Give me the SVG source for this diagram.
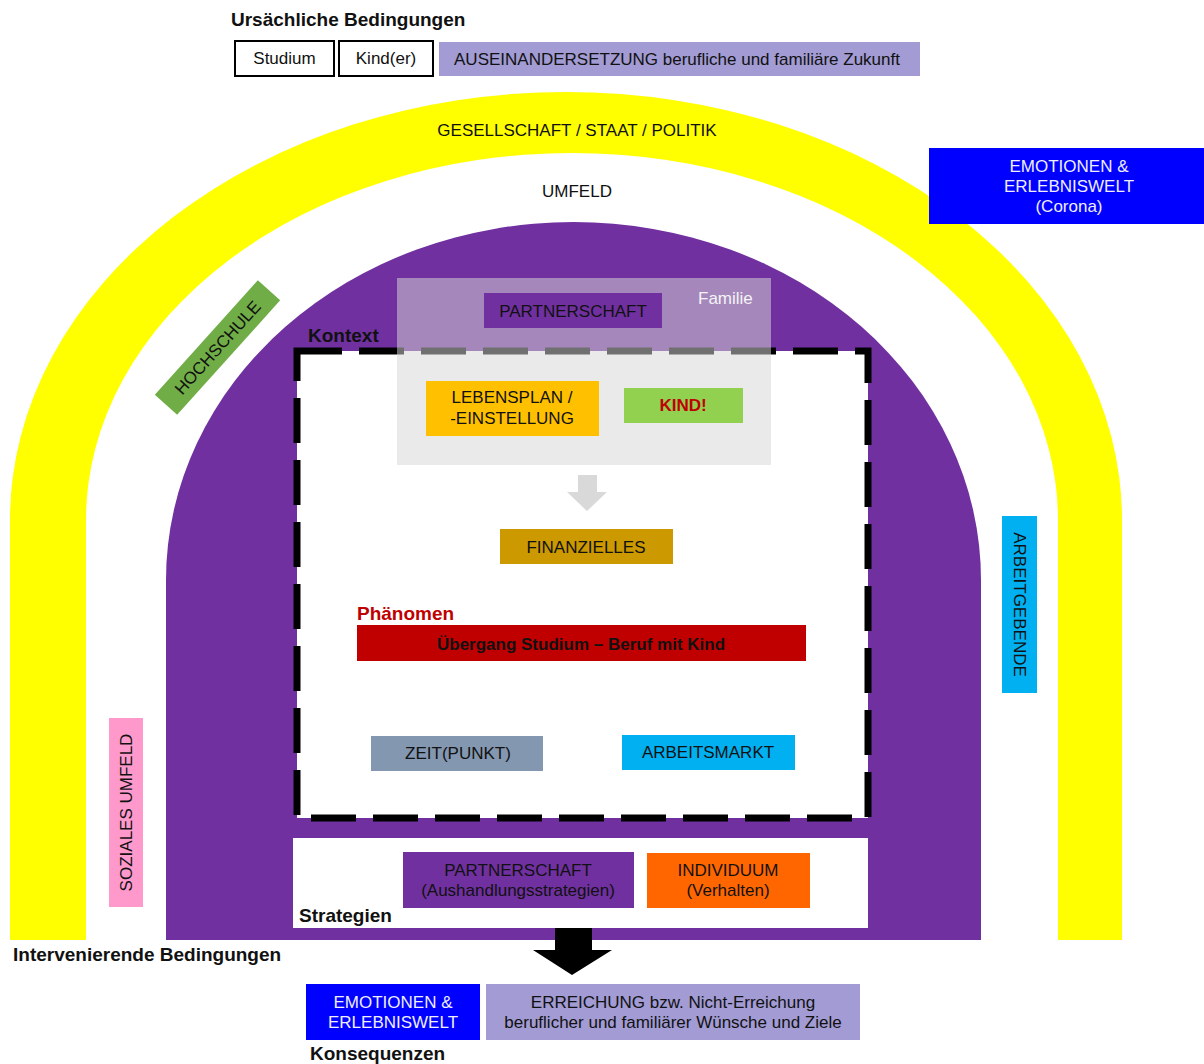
<svg xmlns="http://www.w3.org/2000/svg" width="1204" height="1064" viewBox="0 0 1204 1064">
  <style>
    text { font-family: "Liberation Sans", Arial, sans-serif; font-size: 17px; fill: #111; }
    .c { text-anchor: middle; }
    .b { font-weight: bold; }
    .h { font-weight: bold; font-size: 19px; }
    .light { fill: #eeeeff; }
  </style>

  <rect width="1204" height="1064" fill="#ffffff"/>

  <!-- outer arch: society / state / politics -->
  <g id="gesellschaft">
    <path d="M10,940 L10,520 A556,428 0 0 1 1122,520 L1122,940 L1058,940 L1058,520 A486,367 0 0 0 86,520 L86,940 Z" fill="#ffff00"/>
    <text class="c" x="577" y="136">GESELLSCHAFT / STAAT / POLITIK</text>
  </g>

  <g id="umfeld">
    <text class="c" x="577" y="197">UMFELD</text>
  </g>

  <!-- inner arch -->
  <g id="innerer-bogen">
    <path d="M166,940 L166,580 A407.5,358 0 0 1 981,580 L981,940 Z" fill="#7030a0"/>
  </g>

  <!-- context frame -->
  <g id="kontext">
    <rect x="297" y="351" width="571" height="467" fill="#ffffff" stroke="#000" stroke-width="7" stroke-dasharray="45 17"/>
    <text class="h" x="308" y="342">Kontext</text>
  </g>

  <!-- family overlay -->
  <g id="familie">
    <rect x="397" y="278" width="374" height="187" fill="#d7d7d7" fill-opacity="0.52"/>
    <text x="698" y="304" style="fill:#f4f4f4">Familie</text>
  </g>

  <g id="partnerschaft">
    <rect x="484" y="293" width="178" height="35" fill="#7030a0"/>
    <text class="c" x="573" y="317">PARTNERSCHAFT</text>
  </g>

  <g id="lebensplan">
    <rect x="426" y="381" width="173" height="55" fill="#ffc000"/>
    <text class="c" x="512" y="403">LEBENSPLAN /</text>
    <text class="c" x="512" y="424">-EINSTELLUNG</text>
  </g>

  <g id="kind">
    <rect x="624" y="388" width="119" height="35" fill="#92d050"/>
    <text class="c b" x="683" y="411" style="fill:#c00000">KIND!</text>
  </g>

  <g id="finanzielles">
    <rect x="500" y="529" width="173" height="35" fill="#cc9900"/>
    <text class="c" x="586" y="553">FINANZIELLES</text>
  </g>

  <g id="phaenomen">
    <text class="h" x="357" y="620" style="fill:#c00000">Phänomen</text>
    <rect x="357" y="625" width="449" height="36" fill="#c00000"/>
    <text class="c b" x="581" y="650">Übergang Studium – Beruf mit Kind</text>
  </g>

  <g id="zeitpunkt">
    <rect x="371" y="736" width="172" height="35" fill="#8497b0"/>
    <text class="c" x="458" y="759">ZEIT(PUNKT)</text>
  </g>

  <g id="arbeitsmarkt">
    <rect x="622" y="735" width="173" height="35" fill="#00b0f0"/>
    <text class="c" x="708" y="758">ARBEITSMARKT</text>
  </g>

  <!-- strategies -->
  <g id="strategien">
    <rect x="293" y="838" width="575" height="90" fill="#ffffff"/>
    <text class="h" x="299" y="922">Strategien</text>
  </g>

  <g id="partnerschaft-strategien">
    <rect x="403" y="852" width="231" height="56" fill="#7030a0"/>
    <text class="c" x="518" y="876">PARTNERSCHAFT</text>
    <text class="c" x="518" y="896">(Aushandlungsstrategien)</text>
  </g>

  <g id="individuum">
    <rect x="647" y="853" width="163" height="55" fill="#ff6600"/>
    <text class="c" x="728" y="876">INDIVIDUUM</text>
    <text class="c" x="728" y="896">(Verhalten)</text>
  </g>

  <!-- side factors -->
  <g id="hochschule" transform="translate(217.5,347.5) rotate(-48)">
    <rect x="-77" y="-15" width="154" height="30" fill="#70ad47"/>
    <text class="c" x="0" y="6">HOCHSCHULE</text>
  </g>

  <g id="arbeitgebende" transform="translate(1019.5,604.5) rotate(90)">
    <rect x="-88.5" y="-17.5" width="177" height="35" fill="#00b0f0"/>
    <text class="c" x="0" y="6">ARBEITGEBENDE</text>
  </g>

  <g id="soziales-umfeld" transform="translate(126,812.5) rotate(-90)">
    <rect x="-94.5" y="-17" width="189" height="34" fill="#ff99cc"/>
    <text class="c" x="0" y="6">SOZIALES UMFELD</text>
  </g>

  <g id="emotionen-corona">
    <rect x="929" y="148" width="275" height="76" fill="#0000ff"/>
    <text class="c light" x="1069" y="172">EMOTIONEN &amp;</text>
    <text class="c light" x="1069" y="192">ERLEBNISWELT</text>
    <text class="c light" x="1069" y="212">(Corona)</text>
  </g>

  <!-- causal conditions -->
  <g id="ursaechliche-bedingungen">
    <text class="h" x="231" y="26">Ursächliche Bedingungen</text>
  </g>

  <g id="studium">
    <rect x="235" y="41" width="99" height="35" fill="#ffffff" stroke="#000" stroke-width="2"/>
    <text class="c" x="284.5" y="64">Studium</text>
  </g>

  <g id="kinder">
    <rect x="339" y="41" width="94" height="35" fill="#ffffff" stroke="#000" stroke-width="2"/>
    <text class="c" x="386" y="64">Kind(er)</text>
  </g>

  <g id="auseinandersetzung">
    <rect x="439" y="42" width="481" height="34" fill="#a29bd4"/>
    <text class="c" x="677" y="65">AUSEINANDERSETZUNG berufliche und familiäre Zukunft</text>
  </g>

  <g id="intervenierende-bedingungen">
    <text class="h" x="13" y="961">Intervenierende Bedingungen</text>
  </g>

  <!-- consequences -->
  <g id="emotionen">
    <rect x="306" y="984" width="174" height="56" fill="#0000ff"/>
    <text class="c light" x="393" y="1008">EMOTIONEN &amp;</text>
    <text class="c light" x="393" y="1028">ERLEBNISWELT</text>
  </g>

  <g id="erreichung">
    <rect x="486" y="984" width="374" height="56" fill="#a29bd4"/>
    <text class="c" x="673" y="1008">ERREICHUNG bzw. Nicht-Erreichung</text>
    <text class="c" x="673" y="1028">beruflicher und familiärer Wünsche und Ziele</text>
  </g>

  <g id="konsequenzen">
    <text class="h" x="310" y="1060">Konsequenzen</text>
  </g>

  <!-- arrows -->
  <g id="connectors">
    <path d="M578,475 L597,475 L597,492 L607,492 L587,511 L567,492 L578,492 Z" fill="#d9d9d9"/>
    <path d="M555,928 L592,928 L592,950 L612,950 L572,975 L533,950 L555,950 Z" fill="#000000"/>
  </g>
</svg>
